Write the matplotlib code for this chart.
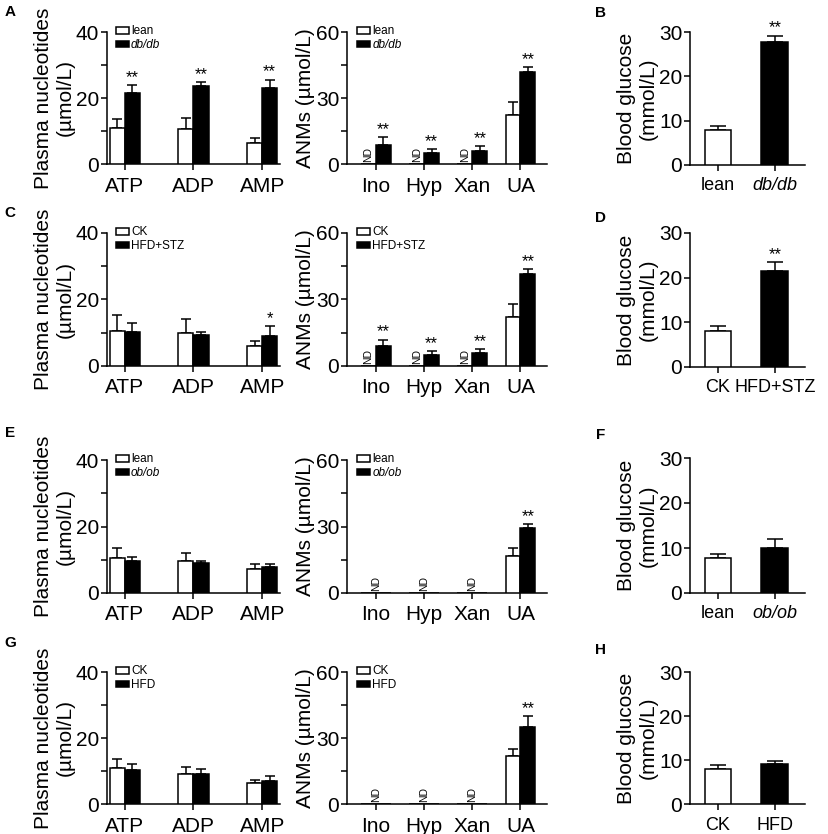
import numpy as np
import matplotlib
matplotlib.use("Agg")
import matplotlib.pyplot as plt

plt.rcParams['font.family'] = ['Liberation Sans', 'DejaVu Sans']

W, H = 829, 834

NUC_CATS = ["ATP", "ADP", "AMP"]
ANM_CATS = ["Ino", "Hyp", "Xan", "UA"]
ND = np.nan

# ── Row A / B : lean vs db/db ────────────────────────────────────────────────
A_GROUPS = ["lean", "db/db"]
A_NUC_CTRL, A_NUC_CTRL_ERR = [10.8, 10.6, 6.5], [2.7, 3.2, 1.5]
A_NUC_MOD, A_NUC_MOD_ERR = [21.4, 23.7, 23.1], [2.5, 1.1, 2.5]
A_NUC_STARS = ["**", "**", "**"]
A_ANM_CTRL, A_ANM_CTRL_ERR = [ND, ND, ND, 22.2], [0, 0, 0, 6.0]
A_ANM_MOD, A_ANM_MOD_ERR = [8.8, 5.1, 6.1, 41.6], [3.3, 1.8, 2.0, 2.3]
A_ANM_STARS = ["**", "**", "**", "**"]
B_GLU, B_GLU_ERR = [7.9, 27.7], [0.9, 1.5]
B_STARS = ["", "**"]

# ── Row C / D : CK vs HFD+STZ ────────────────────────────────────────────────
C_GROUPS = ["CK", "HFD+STZ"]
C_NUC_CTRL, C_NUC_CTRL_ERR = [10.6, 9.8, 6.0], [4.7, 4.3, 1.5]
C_NUC_MOD, C_NUC_MOD_ERR = [10.3, 9.3, 9.1], [2.5, 0.8, 3.0]
C_NUC_STARS = ["", "", "*"]
C_ANM_CTRL, C_ANM_CTRL_ERR = [ND, ND, ND, 22.1], [0, 0, 0, 5.9]
C_ANM_MOD, C_ANM_MOD_ERR = [8.9, 5.0, 5.7, 41.4], [3.0, 1.6, 2.0, 2.4]
C_ANM_STARS = ["**", "**", "**", "**"]
D_GLU, D_GLU_ERR = [8.0, 21.6], [1.2, 1.8]
D_STARS = ["", "**"]

# ── Row E / F : lean vs ob/ob ────────────────────────────────────────────────
E_GROUPS = ["lean", "ob/ob"]
E_NUC_CTRL, E_NUC_CTRL_ERR = [10.6, 9.5, 7.3], [2.8, 2.6, 1.3]
E_NUC_MOD, E_NUC_MOD_ERR = [9.6, 9.0, 7.8], [1.1, 0.6, 0.8]
E_NUC_STARS = ["", "", ""]
E_ANM_CTRL, E_ANM_CTRL_ERR = [ND, ND, ND, 16.7], [0, 0, 0, 3.4]
E_ANM_MOD, E_ANM_MOD_ERR = [ND, ND, ND, 29.4], [0, 0, 0, 1.8]
E_ANM_STARS = ["", "", "", "**"]
F_GLU, F_GLU_ERR = [7.8, 10.1], [0.8, 1.8]
F_STARS = ["", ""]

# ── Row G / H : CK vs HFD ────────────────────────────────────────────────────
G_GROUPS = ["CK", "HFD"]
G_NUC_CTRL, G_NUC_CTRL_ERR = [10.8, 9.2, 6.4], [2.8, 2.0, 0.8]
G_NUC_MOD, G_NUC_MOD_ERR = [10.3, 9.1, 7.0], [1.8, 1.5, 1.4]
G_NUC_STARS = ["", "", ""]
G_ANM_CTRL, G_ANM_CTRL_ERR = [ND, ND, ND, 21.6], [0, 0, 0, 3.6]
G_ANM_MOD, G_ANM_MOD_ERR = [ND, ND, ND, 34.9], [0, 0, 0, 5.0]
G_ANM_STARS = ["", "", "", "**"]
H_GLU, H_GLU_ERR = [7.9, 9.1], [1.0, 0.7]
H_STARS = ["", ""]

ITALIC = {"db/db", "ob/ob"}

TICK_FS = 15
LABEL_FS = 15
LW = 1.1


def px_axes(fig, x0, y0, x1, y1):
    return fig.add_axes([x0 / W, 1 - y1 / H, (x1 - x0) / W, (y1 - y0) / H])


def style_axes(ax):
    for s in ("top", "right"):
        ax.spines[s].set_visible(False)
    for s in ("left", "bottom"):
        ax.spines[s].set_linewidth(LW)
    ax.tick_params(direction="out", length=4, width=LW, labelsize=TICK_FS)
    ax.tick_params(axis="y", pad=1.5)
    ax.tick_params(axis="x", pad=5)


def grouped(ax, cats, ctrl, ctrl_err, mod, mod_err, stars, groups, ymax, yticks, ylabels, ylabel, xlim):
    x = np.arange(len(cats))
    w = 0.22 if len(cats) == 3 else 0.31
    ctrl = np.array(ctrl, dtype=float)
    mod = np.array(mod, dtype=float)
    b1 = ax.bar(x - w / 2, np.nan_to_num(ctrl), w, color="white", edgecolor="black", linewidth=LW, zorder=3)
    b2 = ax.bar(x + w / 2, np.nan_to_num(mod), w, color="black", edgecolor="black", linewidth=LW, zorder=3)
    for xs, v, e in ((x - w / 2, ctrl, ctrl_err), (x + w / 2, mod, mod_err)):
        ok = ~np.isnan(v)
        ax.errorbar(xs[ok], v[ok], yerr=[np.zeros(ok.sum()), np.array(e)[ok]], fmt="none",
                    ecolor="black", elinewidth=LW, capsize=3.5, capthick=LW, zorder=2)
    for i in range(len(cats)):
        if stars[i]:
            ax.text(x[i] + w / 2, mod[i] + mod_err[i], stars[i], ha="center", va="bottom",
                    fontsize=12)
        if np.isnan(ctrl[i]):
            # not detected: mark the control bar, or the category centre if both missing
            xpos = x[i] if np.isnan(mod[i]) else x[i] - w / 2
            ax.text(xpos, ymax * 0.015, "ND", rotation=90, ha="center", va="bottom", fontsize=7.5)
    ax.set_xticks(x)
    ax.set_xticklabels(cats)
    ax.set_xlim(*xlim)
    ax.set_ylim(0, ymax)
    ax.set_yticks(yticks)
    ax.set_yticklabels(ylabels)
    ax.set_ylabel(ylabel, fontsize=LABEL_FS, labelpad=1)
    leg = ax.legend([b1, b2], groups, loc="upper left", bbox_to_anchor=(0.05, 1.05), frameon=False,
                    fontsize=8.5, handlelength=1.1, handleheight=0.5, handletextpad=0.2,
                    labelspacing=0.15, borderpad=0, borderaxespad=0)
    for t in leg.get_texts():
        if t.get_text() in ITALIC:
            t.set_style("italic")
    style_axes(ax)


def glucose(ax, vals, errs, stars, groups):
    x = np.arange(2)
    w = 0.47
    ax.bar(x, vals, w, color=["white", "black"], edgecolor="black", linewidth=LW, zorder=3)
    ax.errorbar(x, vals, yerr=[[0, 0], errs], fmt="none", ecolor="black", elinewidth=LW,
                capsize=6, capthick=LW, zorder=2)
    for i in range(2):
        if stars[i]:
            ax.text(x[i], vals[i] + errs[i], stars[i], ha="center", va="bottom", fontsize=12)
    ax.set_xticks(x)
    ax.set_xticklabels(groups)
    ax.set_xlim(-0.49, 1.53)
    ax.set_ylim(0, 30)
    ax.set_yticks([0, 10, 20, 30])
    ax.set_ylabel("Blood glucose\n(mmol/L)", fontsize=LABEL_FS, labelpad=1)
    style_axes(ax)
    for t in ax.get_xticklabels():
        t.set_fontsize(13)
        if t.get_text() in ITALIC:
            t.set_style("italic")


rows = [
    ("A", "B", (32, 164), (32, 165), A_GROUPS,
     (A_NUC_CTRL, A_NUC_CTRL_ERR, A_NUC_MOD, A_NUC_MOD_ERR, A_NUC_STARS),
     (A_ANM_CTRL, A_ANM_CTRL_ERR, A_ANM_MOD, A_ANM_MOD_ERR, A_ANM_STARS),
     (B_GLU, B_GLU_ERR, B_STARS), 12, 13),
    ("C", "D", (233, 366), (233, 367), C_GROUPS,
     (C_NUC_CTRL, C_NUC_CTRL_ERR, C_NUC_MOD, C_NUC_MOD_ERR, C_NUC_STARS),
     (C_ANM_CTRL, C_ANM_CTRL_ERR, C_ANM_MOD, C_ANM_MOD_ERR, C_ANM_STARS),
     (D_GLU, D_GLU_ERR, D_STARS), 213, 218),
    ("E", "F", (460, 593), (458, 593), E_GROUPS,
     (E_NUC_CTRL, E_NUC_CTRL_ERR, E_NUC_MOD, E_NUC_MOD_ERR, E_NUC_STARS),
     (E_ANM_CTRL, E_ANM_CTRL_ERR, E_ANM_MOD, E_ANM_MOD_ERR, E_ANM_STARS),
     (F_GLU, F_GLU_ERR, F_STARS), 433, 435),
    ("G", "H", (672, 804), (672, 804), G_GROUPS,
     (G_NUC_CTRL, G_NUC_CTRL_ERR, G_NUC_MOD, G_NUC_MOD_ERR, G_NUC_STARS),
     (G_ANM_CTRL, G_ANM_CTRL_ERR, G_ANM_MOD, G_ANM_MOD_ERR, G_ANM_STARS),
     (H_GLU, H_GLU_ERR, H_STARS), 643, 650),
]

fig = plt.figure(figsize=(W / 100, H / 100), dpi=100)

for lab1, lab2, (yt, yb), (gyt, gyb), groups, nuc, anm, glu, ly1, ly2 in rows:
    ax1 = px_axes(fig, 107, yt, 280, yb)
    grouped(ax1, NUC_CATS, *nuc, groups, 40, [0, 10, 20, 30, 40], ["0", "", "20", "", "40"],
            "Plasma nucleotides\n(\u00b5mol/L)", (-0.26, 2.26))
    ax2 = px_axes(fig, 347, yt, 547, yb)
    grouped(ax2, ANM_CATS, *anm, groups, 60, [0, 15, 30, 45, 60], ["0", "", "30", "", "60"],
            "ANMs (\u00b5mol/L)", (-0.6, 3.55))
    ax3 = px_axes(fig, 690, gyt, 805, gyb)
    glucose(ax3, *glu, groups)
    fig.text(10 / W, 1 - ly1 / H, lab1, fontsize=11, fontweight="bold", ha="center", va="center")
    fig.text(601 / W, 1 - ly2 / H, lab2, fontsize=11, fontweight="bold", ha="center", va="center")

fig.savefig("out.png", dpi=100)
